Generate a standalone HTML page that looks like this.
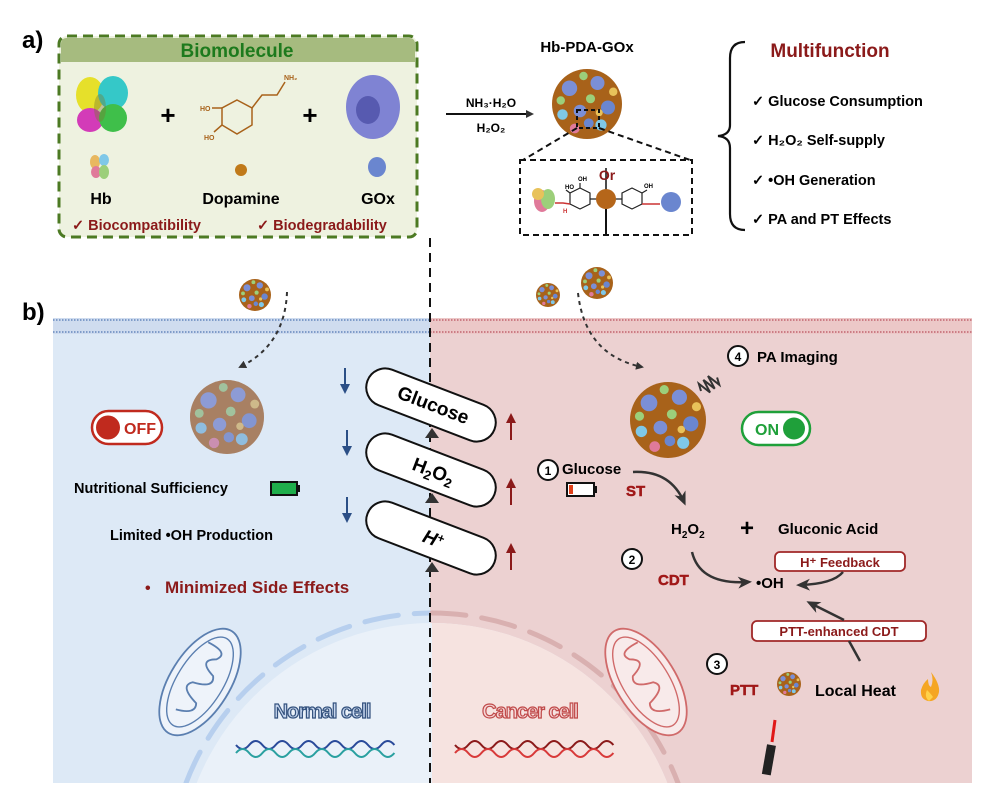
<!DOCTYPE html>
<html><head><meta charset="utf-8"><style>
html,body{margin:0;padding:0;background:#fff;width:987px;height:797px;overflow:hidden}
svg{display:block}
text{font-family:"Liberation Sans",Arial,sans-serif;font-weight:bold}
</style></head><body>
<svg width="987" height="797" viewBox="0 0 987 797" xmlns="http://www.w3.org/2000/svg">
<defs>
<g id="np">
<circle r="1" fill="#a8621a"/>
<circle cx="-0.5" cy="-0.45" r="0.22" fill="#7b8fd6"/>
<circle cx="0.3" cy="-0.6" r="0.2" fill="#7b8fd6"/>
<circle cx="0.6" cy="0.1" r="0.2" fill="#6a86cf"/>
<circle cx="-0.2" cy="0.2" r="0.18" fill="#7b8fd6"/>
<circle cx="-0.7" cy="0.3" r="0.15" fill="#7fc8e8"/>
<circle cx="0.1" cy="-0.15" r="0.13" fill="#9ccf7a"/>
<circle cx="-0.35" cy="0.7" r="0.14" fill="#e07a9a"/>
<circle cx="0.4" cy="0.6" r="0.16" fill="#7fc8e8"/>
<circle cx="0.75" cy="-0.35" r="0.12" fill="#e8c25a"/>
<circle cx="-0.75" cy="-0.1" r="0.12" fill="#9ccf7a"/>
<circle cx="0.05" cy="0.55" r="0.14" fill="#6a86cf"/>
<circle cx="-0.1" cy="-0.8" r="0.12" fill="#9ccf7a"/>
<circle cx="0.35" cy="0.25" r="0.1" fill="#e8c25a"/>
</g>
<marker id="ah" markerWidth="8" markerHeight="8" refX="6" refY="4" orient="auto" markerUnits="userSpaceOnUse"><path d="M0,0 L8,4 L0,8 z" fill="#333"/></marker>
<marker id="ah2" markerWidth="14" markerHeight="12" refX="10" refY="6" orient="auto" markerUnits="userSpaceOnUse"><path d="M0,0 L14,6 L0,12 L4,6 z" fill="#333"/></marker>
<marker id="ahb" markerWidth="10" markerHeight="10" refX="5" refY="5" orient="auto" markerUnits="userSpaceOnUse"><path d="M0,0 L10,5 L0,10 z" fill="#2b4f86"/></marker>
<marker id="ahr" markerWidth="10" markerHeight="10" refX="5" refY="5" orient="auto" markerUnits="userSpaceOnUse"><path d="M0,0 L10,5 L0,10 z" fill="#8b1a1a"/></marker>
</defs>

<!-- ===== a) ===== -->
<text x="22" y="48" font-size="24">a)</text>
<rect x="59" y="36" width="358" height="201" rx="8" fill="#eef2e0" stroke="#4c7a23" stroke-width="3" stroke-dasharray="10,6"/>
<path d="M61,62 V44 Q61,38 67,38 H409 Q415,38 415,44 V62 Z" fill="#a6bb7f"/>
<text x="237" y="57" font-size="19" fill="#1d7a1d" text-anchor="middle">Biomolecule</text>
<g>
<ellipse cx="90" cy="95" rx="14" ry="18" fill="#e6e02a"/>
<ellipse cx="113" cy="93" rx="15" ry="17" fill="#35c8c8"/>
<ellipse cx="90" cy="120" rx="13" ry="12" fill="#d33bb8"/>
<ellipse cx="113" cy="118" rx="14" ry="14" fill="#3fbf4a"/>
<ellipse cx="100" cy="108" rx="6" ry="14" fill="#7a7a30" opacity=".4"/>
</g>
<text x="168" y="124" font-size="26" text-anchor="middle">+</text>
<g stroke="#a8621a" stroke-width="1.5" fill="none">
<polygon points="237,100 252,108 252,125 237,134 222,125 222,108"/>
<path d="M252,108 L262,95 L277,95 L285,82"/>
<path d="M222,108 L212,108 M222,125 L214,132"/>
</g>
<text x="284" y="80" font-size="7" fill="#a8621a">NH₂</text>
<text x="200" y="111" font-size="7" fill="#a8621a">HO</text>
<text x="204" y="140" font-size="7" fill="#a8621a">HO</text>
<text x="310" y="124" font-size="26" text-anchor="middle">+</text>
<ellipse cx="373" cy="107" rx="27" ry="32" fill="#6b70d0" opacity=".85"/>
<ellipse cx="368" cy="110" rx="12" ry="14" fill="#3c3f9a" opacity=".6"/>
<ellipse cx="95" cy="162" rx="5" ry="7" fill="#e8b860"/><ellipse cx="104" cy="160" rx="5" ry="6" fill="#7fc8e8"/>
<ellipse cx="96" cy="172" rx="5" ry="6" fill="#e07a9a"/><ellipse cx="104" cy="172" rx="5" ry="7" fill="#9ccf7a"/>
<circle cx="241" cy="170" r="6" fill="#c07a1a"/>
<ellipse cx="377" cy="167" rx="9" ry="10" fill="#6a86cf"/>
<text x="101" y="204" font-size="16" text-anchor="middle">Hb</text>
<text x="241" y="204" font-size="16" text-anchor="middle">Dopamine</text>
<text x="378" y="204" font-size="16" text-anchor="middle">GOx</text>
<text x="72" y="230" font-size="14.5" fill="#8b1a1a">✓ Biocompatibility</text>
<text x="257" y="230" font-size="14.5" fill="#8b1a1a">✓ Biodegradability</text>

<line x1="446" y1="114" x2="532" y2="114" stroke="#111" stroke-width="2" marker-end="url(#ah)"/>
<text x="491" y="107" font-size="12" text-anchor="middle">NH₃·H₂O</text>
<text x="491" y="132" font-size="12" text-anchor="middle">H₂O₂</text>
<text x="587" y="52" font-size="15" text-anchor="middle">Hb-PDA-GOx</text>
<use href="#np" transform="translate(587,104) scale(35)"/>
<rect x="577" y="110" width="22" height="18" fill="none" stroke="#111" stroke-width="2" stroke-dasharray="4,3"/>
<path d="M577,128 L523,160 M599,128 L690,160" stroke="#111" stroke-width="2" stroke-dasharray="6,4"/>
<rect x="520" y="160" width="172" height="75" fill="none" stroke="#111" stroke-width="2" stroke-dasharray="6,4"/>
<line x1="606" y1="208" x2="606" y2="234" stroke="#111" stroke-width="2"/>
<line x1="606" y1="168" x2="606" y2="190" stroke="#111" stroke-width="1.5"/>
<text x="607" y="180" font-size="14" fill="#8b1a1a" text-anchor="middle">Or</text>
<ellipse cx="542" cy="201" rx="8" ry="11" fill="#e07a9a"/><ellipse cx="548" cy="199" rx="7" ry="10" fill="#9ccf7a"/><ellipse cx="538" cy="194" rx="6" ry="6" fill="#e8c25a"/>
<g stroke="#222" stroke-width="1.2" fill="none">
<polygon points="580,188 590,193 590,204 580,209 570,204 570,193"/>
<polygon points="632,188 642,193 642,204 632,209 622,204 622,193"/>
<path d="M590,199 L598,199 M614,199 L622,199 M580,188 L580,183 M570,193 L566,190 M642,193 L647,190"/>
</g>
<path d="M555,203 L563,203 L570,204" stroke="#c33" stroke-width="1.5" fill="none"/>
<path d="M642,204 L660,204" stroke="#c33" stroke-width="1.5"/>
<circle cx="606" cy="199" r="10" fill="#b5661a"/>
<ellipse cx="671" cy="202" rx="10" ry="10" fill="#6a86cf"/>
<text x="578" y="181" font-size="6">OH</text><text x="565" y="189" font-size="6">HO</text><text x="644" y="188" font-size="6">OH</text>
<text x="563" y="213" font-size="6" fill="#c33">H</text>
<path d="M745,42 Q730,42 730,58 L730,125 Q730,135 718,136 Q730,137 730,148 L730,214 Q730,230 745,230" fill="none" stroke="#111" stroke-width="2.2"/>
<text x="830" y="57" font-size="19" fill="#8b1a1a" text-anchor="middle">Multifunction</text>
<text x="752" y="106" font-size="14.5">✓ Glucose Consumption</text>
<text x="752" y="145" font-size="14.5">✓ H₂O₂ Self-supply</text>
<text x="752" y="185" font-size="14.5">✓ •OH Generation</text>
<text x="752" y="224" font-size="14.5">✓ PA and PT Effects</text>

<!-- ===== b) ===== -->
<text x="22" y="320" font-size="24">b)</text>
<rect x="53" y="318" width="377" height="465" fill="#dde9f6"/>
<rect x="430" y="318" width="542" height="465" fill="#ecd1d1"/>
<circle cx="432" cy="876" r="253" fill="#eaf1f9"/>
<path d="M432,623 A253,253 0 0 1 685,876 L685,783 L432,783 Z" fill="#f6e3e0"/>
<g fill="none" stroke-width="5" stroke-linecap="round" stroke-dasharray="34,16">
<path d="M186,783 A264,264 0 0 1 430,613" stroke="#b7cfee"/>
<path d="M432,613 A264,264 0 0 1 678,783" stroke="#d9b0b0"/>
</g>
<rect x="0" y="783" width="987" height="14" fill="#fff"/>
<rect x="53" y="318" width="377" height="16" fill="#cfdcef"/>
<rect x="430" y="318" width="542" height="16" fill="#ecc8c8"/>
<g stroke-width="2" stroke-dasharray="1.5,1.5">
<line x1="53" y1="320" x2="430" y2="320" stroke="#7f9cc9"/><line x1="53" y1="332" x2="430" y2="332" stroke="#7f9cc9"/>
<line x1="430" y1="320" x2="972" y2="320" stroke="#cc7d85"/><line x1="430" y1="332" x2="972" y2="332" stroke="#cc7d85"/>
</g>
<line x1="430" y1="238" x2="430" y2="783" stroke="#111" stroke-width="2" stroke-dasharray="9,6"/>

<use href="#np" transform="translate(255,295) scale(16)"/>
<use href="#np" transform="translate(548,295) scale(12)"/>
<use href="#np" transform="translate(597,283) scale(16)"/>
<path d="M287,292 Q285,345 240,367" fill="none" stroke="#333" stroke-width="2" stroke-dasharray="4,4" marker-end="url(#ah)"/>
<path d="M578,293 Q585,355 642,367" fill="none" stroke="#333" stroke-width="2" stroke-dasharray="4,4" marker-end="url(#ah)"/>

<g opacity=".8"><use href="#np" transform="translate(227,417) scale(37)"/></g>
<circle cx="227" cy="417" r="37" fill="#8c8cc0" opacity=".25"/>
<rect x="92" y="411" width="70" height="33" rx="16.5" fill="#fff" stroke="#c02a1e" stroke-width="2.5"/>
<circle cx="108" cy="427.5" r="12" fill="#c02a1e"/>
<text x="140" y="434" font-size="16" fill="#c02a1e" text-anchor="middle">OFF</text>
<text x="74" y="493" font-size="14.5">Nutritional Sufficiency</text>
<rect x="271" y="482" width="26" height="13" fill="#1fae4b" stroke="#111" stroke-width="2"/>
<rect x="297" y="485" width="3" height="7" fill="#111"/>
<text x="110" y="540" font-size="14.5">Limited •OH Production</text>
<text x="145" y="593" font-size="16" fill="#8b1a1a">•</text>
<text x="165" y="593" font-size="17" fill="#8b1a1a">Minimized Side Effects</text>
<g stroke="#2b4f86" stroke-width="2">
<line x1="345" y1="368" x2="345" y2="389" marker-end="url(#ahb)"/>
<line x1="347" y1="430" x2="347" y2="451" marker-end="url(#ahb)"/>
<line x1="347" y1="497" x2="347" y2="518" marker-end="url(#ahb)"/>
</g>
<g stroke="#8b1a1a" stroke-width="2">
<line x1="511" y1="440" x2="511" y2="418" marker-end="url(#ahr)"/>
<line x1="511" y1="505" x2="511" y2="483" marker-end="url(#ahr)"/>
<line x1="511" y1="570" x2="511" y2="548" marker-end="url(#ahr)"/>
</g>
<g stroke="#111" stroke-width="2" fill="#fff">
<rect x="-68" y="-19" width="136" height="38" rx="19" transform="translate(431,405) rotate(21)"/>
<rect x="-68" y="-19" width="136" height="38" rx="19" transform="translate(431,470) rotate(21)"/>
<rect x="-68" y="-19" width="136" height="38" rx="19" transform="translate(431,538) rotate(21)"/>
</g>
<g fill="#333">
<path d="M425,438 L439,438 L432,428 Z"/><path d="M425,503 L439,503 L432,493 Z"/><path d="M425,572 L439,572 L432,562 Z"/>
</g>
<text transform="translate(431,411) rotate(21)" font-size="19" text-anchor="middle">Glucose</text>
<text transform="translate(431,477) rotate(21)" font-size="19" text-anchor="middle">H<tspan font-size="13" dy="4">2</tspan><tspan dy="-4">O</tspan><tspan font-size="13" dy="4">2</tspan></text>
<text transform="translate(431,545) rotate(21)" font-size="19" text-anchor="middle" font-style="italic">H<tspan font-size="12" dy="-6">+</tspan></text>

<use href="#np" transform="translate(668,420) scale(38)"/>
<path d="M0,0 l3,-7 l3,14 l3,-14 l3,14 l3,-14 l3,14 l3,-7" fill="none" stroke="#333" stroke-width="2" transform="translate(701,391) rotate(-40)"/>
<circle cx="738" cy="356" r="10" fill="#fff" stroke="#111" stroke-width="2"/>
<text x="738" y="361" font-size="12" text-anchor="middle">4</text>
<text x="757" y="362" font-size="15">PA Imaging</text>
<rect x="742" y="412" width="68" height="33" rx="16.5" fill="#fff" stroke="#1fa03a" stroke-width="2.5"/>
<text x="767" y="435" font-size="16" fill="#1fa03a" text-anchor="middle">ON</text>
<circle cx="794" cy="428.5" r="11" fill="#1fa03a"/>

<circle cx="548" cy="470" r="10" fill="#fff" stroke="#111" stroke-width="2"/>
<text x="548" y="475" font-size="12" text-anchor="middle">1</text>
<text x="562" y="474" font-size="15">Glucose</text>
<rect x="567" y="483" width="27" height="13" fill="#fff" stroke="#111" stroke-width="2"/>
<rect x="569" y="485" width="4" height="9" fill="#e0401a"/>
<rect x="594" y="486" width="3" height="7" fill="#111"/>
<text x="626" y="496" font-size="15" fill="#a01818" stroke="#a01818" stroke-width=".5">ST</text>
<path d="M633,472 Q670,470 684,502" fill="none" stroke="#333" stroke-width="2.5" marker-end="url(#ah2)"/>
<text x="671" y="534" font-size="15" font-weight="normal">H<tspan font-size="10" dy="4">2</tspan><tspan dy="-4">O</tspan><tspan font-size="10" dy="4">2</tspan></text>
<text x="747" y="536" font-size="24" text-anchor="middle">+</text>
<text x="778" y="534" font-size="15">Gluconic Acid</text>
<circle cx="632" cy="559" r="10" fill="#fff" stroke="#111" stroke-width="2"/>
<text x="632" y="564" font-size="12" text-anchor="middle">2</text>
<text x="658" y="585" font-size="15" fill="#a01818" stroke="#a01818" stroke-width=".5">CDT</text>
<path d="M692,552 Q700,585 748,582" fill="none" stroke="#333" stroke-width="2.5" marker-end="url(#ah2)"/>
<text x="756" y="588" font-size="15">•OH</text>
<rect x="775" y="552" width="130" height="19" rx="5" fill="#fff" stroke="#a02828" stroke-width="1.8"/>
<text x="840" y="567" font-size="13" fill="#8b1a1a" text-anchor="middle">H⁺ Feedback</text>
<path d="M843,572 Q833,584 800,585" fill="none" stroke="#333" stroke-width="2.5" marker-end="url(#ah2)"/>
<rect x="752" y="621" width="174" height="20" rx="5" fill="#fff" stroke="#a02828" stroke-width="1.8"/>
<text x="839" y="636" font-size="13" fill="#8b1a1a" text-anchor="middle">PTT-enhanced CDT</text>
<line x1="860" y1="661" x2="849" y2="641" stroke="#333" stroke-width="2.5"/>
<path d="M844,620 L810,603" fill="none" stroke="#333" stroke-width="2.5" marker-end="url(#ah2)"/>
<circle cx="717" cy="664" r="10" fill="#fff" stroke="#111" stroke-width="2"/>
<text x="717" y="669" font-size="12" text-anchor="middle">3</text>
<text x="730" y="695" font-size="15" fill="#a01818" stroke="#a01818" stroke-width=".5">PTT</text>
<use href="#np" transform="translate(789,684) scale(12)"/>
<text x="815" y="696" font-size="16">Local Heat</text>
<path d="M931,672 Q940,684 939,692 Q937,702 928,701 Q920,699 921,690 Q923,683 928,679 Q928,686 931,687 Q934,680 931,672 Z" fill="#f5a623"/>
<path d="M929,701 Q924,697 927,690 Q931,694 933,697 Z" fill="#ffd24a"/>
<line x1="775" y1="720" x2="772" y2="742" stroke="#e01818" stroke-width="3"/>
<rect x="-4" y="0" width="9" height="30" fill="#222" transform="translate(771,745) rotate(10)"/>

<g transform="translate(200,682) rotate(32)">
<ellipse rx="30" ry="60" fill="#eef3fa" stroke="#5b7fb0" stroke-width="1.8"/>
<ellipse rx="23" ry="51" fill="none" stroke="#5b7fb0" stroke-width="1.4"/>
<path d="M-14,-38 Q10,-40 2,-28 Q-14,-18 8,-12 Q16,-2 -6,4 Q-16,14 8,20 Q14,30 -6,36" fill="none" stroke="#5b7fb0" stroke-width="1.8"/>
</g>
<g transform="translate(646,682) rotate(-32)">
<ellipse rx="30" ry="60" fill="#f8eaea" stroke="#d06a6a" stroke-width="1.8"/>
<ellipse rx="23" ry="51" fill="none" stroke="#d06a6a" stroke-width="1.4"/>
<path d="M14,-38 Q-10,-40 -2,-28 Q14,-18 -8,-12 Q-16,-2 6,4 Q16,14 -8,20 Q-14,30 6,36" fill="none" stroke="#d06a6a" stroke-width="1.8"/>
</g>
<text x="322" y="718" font-size="20" fill="#c6d6ee" stroke="#34527e" stroke-width="1.2" text-anchor="middle" letter-spacing="-1">Normal cell</text>
<text x="530" y="718" font-size="20" fill="#f5d6d6" stroke="#c04a4a" stroke-width="1.2" text-anchor="middle" letter-spacing="-1">Cancer cell</text>
<path d="M236,745 q6.6,8 13.2,0 t13.2,0 t13.2,0 t13.2,0 t13.2,0 t13.2,0 t13.2,0 t13.2,0 t13.2,0 t13.2,0 t13.2,0 t13.2,0" fill="none" stroke="#2a4a9a" stroke-width="2"/>
<path d="M236,753 q6.6,-8 13.2,0 t13.2,0 t13.2,0 t13.2,0 t13.2,0 t13.2,0 t13.2,0 t13.2,0 t13.2,0 t13.2,0 t13.2,0 t13.2,0" fill="none" stroke="#2aa0a0" stroke-width="2"/>
<path d="M455,745 q6.6,8 13.2,0 t13.2,0 t13.2,0 t13.2,0 t13.2,0 t13.2,0 t13.2,0 t13.2,0 t13.2,0 t13.2,0 t13.2,0 t13.2,0" fill="none" stroke="#8b1a1a" stroke-width="2"/>
<path d="M455,753 q6.6,-8 13.2,0 t13.2,0 t13.2,0 t13.2,0 t13.2,0 t13.2,0 t13.2,0 t13.2,0 t13.2,0 t13.2,0 t13.2,0 t13.2,0" fill="none" stroke="#d83a3a" stroke-width="2"/>
</svg>
</body></html>
